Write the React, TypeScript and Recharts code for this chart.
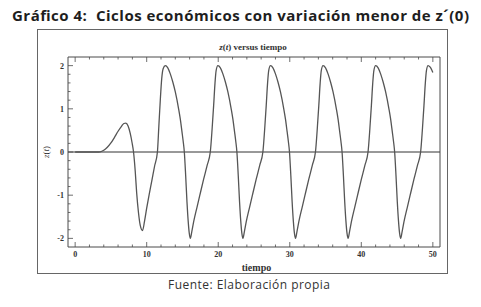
import { LineChart, Line, XAxis, YAxis, ReferenceLine } from 'recharts'

// z(t), [tiempo, z]
const inicio: [number, number][] = [
  [0, 0], [1, 0], [2, 0], [3, 0], [3.5, 0.005], [4, 0.04], [4.5, 0.11], [5, 0.21], [5.5, 0.34],
  [6, 0.48], [6.5, 0.6], [6.8, 0.66], [7.1, 0.67], [7.4, 0.6], [7.7, 0.43], [7.95, 0.22], [8.16, 0],
  [8.4, -0.45], [8.6, -0.95], [8.85, -1.4], [9.1, -1.7], [9.42, -1.82], [9.7, -1.6], [10, -1.3],
  [10.35, -0.98], [10.7, -0.68], [11.1, -0.33], [11.5, 0], [11.7, 0.6], [11.9, 1.2], [12.1, 1.7],
  [12.3, 1.93], [12.6, 2.0],
]
const ciclo1: [number, number][] = [
  [12.95, 1.95], [13.3, 1.81], [13.65, 1.62], [14.0, 1.39], [14.46, 1.0], [14.7, 0.76], [14.93, 0.47],
  [15.1, 0.25], [15.26, 0], [15.45, -0.55], [15.63, -1.15], [15.8, -1.6], [15.95, -1.88], [16.1, -2.0],
  [16.3, -1.85], [16.56, -1.62], [17.03, -1.28], [17.5, -0.95], [17.96, -0.63], [18.45, -0.31],
  [18.89, 0], [19.15, 0.55], [19.36, 1.08], [19.55, 1.6], [19.7, 1.88], [19.95, 2.0],
]
const ciclo2: [number, number][] = [
  [20.3, 1.95], [20.65, 1.81], [21.0, 1.62], [21.35, 1.39], [21.81, 1.0], [22.05, 0.76], [22.28, 0.47],
  [22.45, 0.25], [22.61, 0], [22.8, -0.55], [22.98, -1.15], [23.15, -1.6], [23.3, -1.88], [23.45, -2.0],
  [23.65, -1.85], [23.91, -1.62], [24.38, -1.28], [24.85, -0.95], [25.31, -0.63], [25.8, -0.31],
  [26.24, 0], [26.5, 0.55], [26.71, 1.08], [26.9, 1.6], [27.05, 1.88], [27.3, 2.0],
]
const ciclo3: [number, number][] = [
  [27.65, 1.95], [28.0, 1.81], [28.35, 1.62], [28.7, 1.39], [29.16, 1.0], [29.4, 0.76], [29.63, 0.47],
  [29.8, 0.25], [29.96, 0], [30.15, -0.55], [30.33, -1.15], [30.5, -1.6], [30.65, -1.88], [30.8, -2.0],
  [31.0, -1.85], [31.26, -1.62], [31.73, -1.28], [32.2, -0.95], [32.66, -0.63], [33.15, -0.31],
  [33.59, 0], [33.85, 0.55], [34.06, 1.08], [34.25, 1.6], [34.4, 1.88], [34.65, 2.0],
]
const ciclo4: [number, number][] = [
  [35.0, 1.95], [35.35, 1.81], [35.7, 1.62], [36.05, 1.39], [36.51, 1.0], [36.75, 0.76], [36.98, 0.47],
  [37.15, 0.25], [37.31, 0], [37.5, -0.55], [37.68, -1.15], [37.85, -1.6], [38.0, -1.88], [38.15, -2.0],
  [38.35, -1.85], [38.61, -1.62], [39.08, -1.28], [39.55, -0.95], [40.01, -0.63], [40.5, -0.31],
  [40.94, 0], [41.2, 0.55], [41.41, 1.08], [41.6, 1.6], [41.75, 1.88], [42.0, 2.0],
]
const ciclo5: [number, number][] = [
  [42.35, 1.95], [42.7, 1.81], [43.05, 1.62], [43.4, 1.39], [43.86, 1.0], [44.1, 0.76], [44.33, 0.47],
  [44.5, 0.25], [44.66, 0], [44.85, -0.55], [45.03, -1.15], [45.2, -1.6], [45.35, -1.88], [45.5, -2.0],
  [45.7, -1.85], [45.96, -1.62], [46.43, -1.28], [46.9, -0.95], [47.36, -0.63], [47.85, -0.31],
  [48.29, 0], [48.55, 0.55], [48.76, 1.08], [48.95, 1.6], [49.1, 1.88], [49.33, 2.0],
  [49.6, 1.97], [49.85, 1.9], [50.0, 1.84],
]

const xMajor = [0, 10, 20, 30, 40, 50]
const xMinor = [2, 4, 6, 8, 12, 14, 16, 18, 22, 24, 26, 28, 32, 34, 36, 38, 42, 44, 46, 48]
const yMajor = [-2, -1, 0, 1, 2]
const yMinor = [-1.8, -1.6, -1.4, -1.2, -0.8, -0.6, -0.4, -0.2, 0.2, 0.4, 0.6, 0.8, 1.2, 1.4, 1.6, 1.8]

const data = [...inicio, ...ciclo1, ...ciclo2, ...ciclo3, ...ciclo4, ...ciclo5].map(([t, z]) => ({ t, z }))
const xTicks = [...xMajor, ...xMinor].sort((a, b) => a - b)
const yTicks = [...yMajor, ...yMinor].sort((a, b) => a - b)

const INK = '#4a4a4a'
const serif = 'Liberation Serif'
const tickFont = { fontFamily: serif, fontSize: 8, fontWeight: 700, fill: '#333' }
const isMajor = (list: number[], v: number) => list.some(m => Math.abs(m - v) < 1e-6)

function TickBottom({ x, y, payload }: any) {
  const major = isMajor(xMajor, payload.value)
  return (
    <g>
      <line x1={x} x2={x} y1={y} y2={y - (major ? 5 : 2.5)} stroke={INK} strokeWidth={0.8}/>
      {major && <text x={x} y={y + 10} textAnchor="middle" {...tickFont}>{payload.value}</text>}
    </g>
  )
}
function TickTop({ x, y, payload }: any) {
  const major = isMajor(xMajor, payload.value)
  return <line x1={x} x2={x} y1={y} y2={y + (major ? 5 : 2.5)} stroke={INK} strokeWidth={0.8}/>
}
function TickLeft({ x, y, payload }: any) {
  const major = isMajor(yMajor, payload.value)
  return (
    <g>
      <line x1={x} x2={x + (major ? 5 : 2.5)} y1={y} y2={y} stroke={INK} strokeWidth={0.8}/>
      {major && <text x={x - 4} y={y + 3} textAnchor="end" {...tickFont}>{payload.value < 0 ? `-${-payload.value}` : payload.value}</text>}
    </g>
  )
}
function TickRight({ x, y, payload }: any) {
  const major = isMajor(yMajor, payload.value)
  return <line x1={x} x2={x - (major ? 5 : 2.5)} y1={y} y2={y} stroke={INK} strokeWidth={0.8}/>
}

export default function App() {
  return (
    <div style={{ position: 'absolute', left: 0, top: 0, width: 481, height: 307, background: '#fff' }}>
      <div style={{ position: 'absolute', left: 37, top: 29, width: 409, height: 243, border: '1px solid #666' }}>
        <LineChart width={409} height={243} data={data} margin={{ top: 0, right: 0, bottom: 0, left: 0 }}>
          <XAxis xAxisId="b" dataKey="t" type="number" domain={[-1, 51]} ticks={xTicks} interval={0}
            orientation="bottom" height={26} tickSize={0} tickMargin={0} tickLine={false}
            axisLine={{ stroke: INK }} tick={<TickBottom/>}/>
          <XAxis xAxisId="tp" dataKey="t" type="number" domain={[-1, 51]} ticks={xTicks} interval={0}
            orientation="top" height={27} tickSize={0} tickMargin={0} tickLine={false}
            axisLine={{ stroke: INK }} tick={<TickTop/>}/>
          <YAxis yAxisId="l" type="number" domain={[-2.2, 2.2]} ticks={yTicks} interval={0}
            orientation="left" width={30} tickSize={0} tickMargin={0} tickLine={false}
            axisLine={{ stroke: INK }} tick={<TickLeft/>}/>
          <YAxis yAxisId="r" type="number" domain={[-2.2, 2.2]} ticks={yTicks} interval={0}
            orientation="right" width={7} tickSize={0} tickMargin={0} tickLine={false}
            axisLine={{ stroke: INK }} tick={<TickRight/>}/>
          <ReferenceLine xAxisId="b" yAxisId="l" y={0} stroke="#333" strokeWidth={1}/>
          <Line xAxisId="b" yAxisId="l" type="monotone" dataKey="z" stroke="#555" strokeWidth={1.3}
            dot={false} isAnimationActive={false}/>
        </LineChart>
      </div>
      <svg width={481} height={307} style={{ position: 'absolute', left: 0, top: 0, pointerEvents: 'none' }}>
        <text x={240.5} y={20.5} textAnchor="middle" textLength={457} lengthAdjust="spacing"
          fontFamily="Open Sans" fontWeight={700} fontSize={15} fill="#1e1e1e" style={{ whiteSpace: 'pre' }}>
          Gráfico 4:  Ciclos económicos con variación menor de z´(0)
        </text>
        <text x={253} y={50} textAnchor="middle" fontFamily={serif} fontWeight={700} fontSize={9} fill="#333">
          <tspan fontStyle="italic">z</tspan>(<tspan fontStyle="italic">t</tspan>) versus tiempo
        </text>
        <text x={256.5} y={270.5} textAnchor="middle" fontFamily={serif} fontWeight={700} fontSize={10} fill="#333">
          tiempo
        </text>
        <text x={48.5} y={152} textAnchor="middle" transform="rotate(-90 48.5 152)" fontFamily={serif}
          fontSize={9} fill="#333">
          <tspan fontStyle="italic">z</tspan>(<tspan fontStyle="italic">t</tspan>)
        </text>
        <text x={249} y={289} textAnchor="middle" textLength={162} lengthAdjust="spacing"
          fontFamily="Open Sans" fontSize={12} fill="#333">
          Fuente: Elaboración propia
        </text>
      </svg>
    </div>
  )
}
